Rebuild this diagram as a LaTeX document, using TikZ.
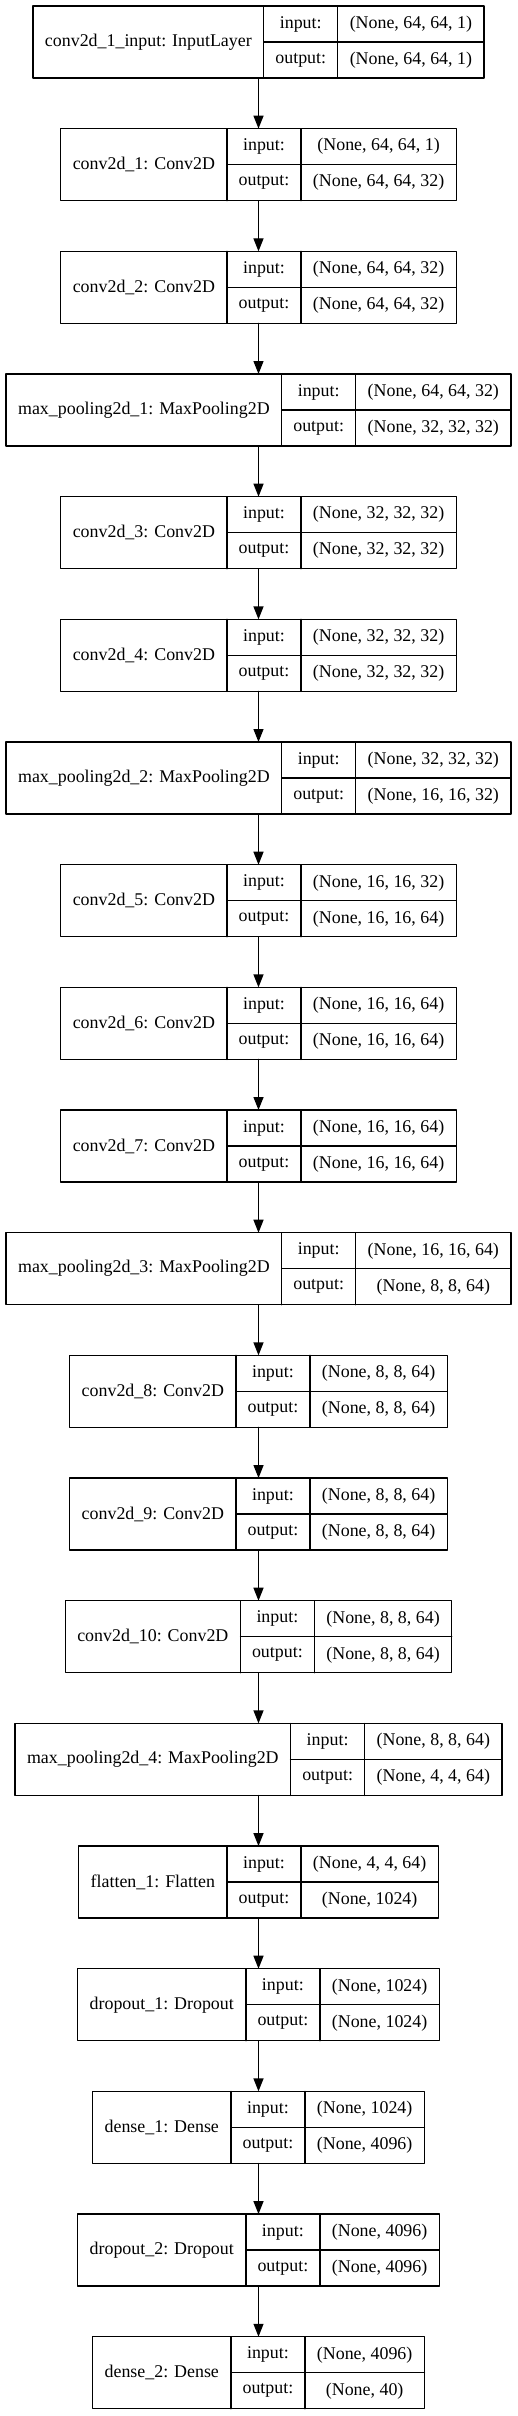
\documentclass[tikz,border=0pt]{standalone}
\usepackage{fontspec}
\setmainfont{Liberation Serif}
\usepackage{tikz}
\usetikzlibrary{arrows.meta}
\newlength\cola
\newlength\colc
\newlength\colt
\newcommand\lfont{\normalfont\fontsize{17.9}{20}\selectfont}
\newcommand\layers{
    {conv2d\_1\_input: InputLayer}/{(None, 64, 64, 1)}/{(None, 64, 64, 1)},
    {conv2d\_1: Conv2D}/{(None, 64, 64, 1)}/{(None, 64, 64, 32)},
    {conv2d\_2: Conv2D}/{(None, 64, 64, 32)}/{(None, 64, 64, 32)},
    {max\_pooling2d\_1: MaxPooling2D}/{(None, 64, 64, 32)}/{(None, 32, 32, 32)},
    {conv2d\_3: Conv2D}/{(None, 32, 32, 32)}/{(None, 32, 32, 32)},
    {conv2d\_4: Conv2D}/{(None, 32, 32, 32)}/{(None, 32, 32, 32)},
    {max\_pooling2d\_2: MaxPooling2D}/{(None, 32, 32, 32)}/{(None, 16, 16, 32)},
    {conv2d\_5: Conv2D}/{(None, 16, 16, 32)}/{(None, 16, 16, 64)},
    {conv2d\_6: Conv2D}/{(None, 16, 16, 64)}/{(None, 16, 16, 64)},
    {conv2d\_7: Conv2D}/{(None, 16, 16, 64)}/{(None, 16, 16, 64)},
    {max\_pooling2d\_3: MaxPooling2D}/{(None, 16, 16, 64)}/{(None, 8, 8, 64)},
    {conv2d\_8: Conv2D}/{(None, 8, 8, 64)}/{(None, 8, 8, 64)},
    {conv2d\_9: Conv2D}/{(None, 8, 8, 64)}/{(None, 8, 8, 64)},
    {conv2d\_10: Conv2D}/{(None, 8, 8, 64)}/{(None, 8, 8, 64)},
    {max\_pooling2d\_4: MaxPooling2D}/{(None, 8, 8, 64)}/{(None, 4, 4, 64)},
    {flatten\_1: Flatten}/{(None, 4, 4, 64)}/{(None, 1024)},
    {dropout\_1: Dropout}/{(None, 1024)}/{(None, 1024)},
    {dense\_1: Dense}/{(None, 1024)}/{(None, 4096)},
    {dropout\_2: Dropout}/{(None, 4096)}/{(None, 4096)},
    {dense\_2: Dense}/{(None, 4096)}/{(None, 40)}}
\tikzset{layerbox/.style={draw,line width=1.3pt,minimum height=72pt,inner sep=0pt,outer sep=0pt}}

\begin{document}
% cell widths, measured outside the picture
\foreach \lab/\ii/\oo [count=\i from 0] in \layers {%
    \settowidth{\cola}{\lfont\lab}\addtolength{\cola}{24pt}%
    \settowidth{\colc}{\lfont\ii}\settowidth{\colt}{\lfont\oo}%
    \ifdim\colt>\colc \colc=\colt\fi
    \addtolength{\colc}{24pt}%
    \expandafter\xdef\csname wa\i\endcsname{\the\cola}%
    \expandafter\xdef\csname wc\i\endcsname{\the\colc}%
}%
\begin{tikzpicture}[line cap=round,line join=round,>={Triangle[width=10pt,length=13pt]},x=1pt,y=-1pt,line width=1.3pt,font=\lfont]
    \useasboundingbox (0,0) rectangle (517,2416);
    \foreach \lab/\ii/\oo [count=\i from 0] in \layers {
        \pgfmathsetlengthmacro\wa{\csname wa\i\endcsname}
        \pgfmathsetlengthmacro\wc{\csname wc\i\endcsname}
        \pgfmathsetlengthmacro\total{\wa+74pt+\wc}
        \node[layerbox,minimum width=\total] (l\i) at (258.5,{42+122.67*\i}) {};
        \draw ([xshift=\wa]l\i.north west) -- ([xshift=\wa]l\i.south west);
        \draw ([xshift=\wa+74pt]l\i.north west) -- ([xshift=\wa+74pt]l\i.south west);
        \draw ([xshift=\wa]l\i.west) -- (l\i.east);
        \node at ([xshift=0.5*\wa]l\i.west) {\lab};
        \node at ([xshift=\wa+37pt,yshift=18pt]l\i.west) {input:};
        \node at ([xshift=\wa+37pt,yshift=-18pt]l\i.west) {output:};
        \node at ([xshift=\wa+74pt+0.5*\wc,yshift=18pt]l\i.west) {\ii};
        \node at ([xshift=\wa+74pt+0.5*\wc,yshift=-18pt]l\i.west) {\oo};
    }
    \foreach \i in {0,...,18} {
        \pgfmathtruncatemacro\j{\i+1}
        \draw[->] (l\i.south) -- (l\j.north);
    }
\end{tikzpicture}
\end{document}
